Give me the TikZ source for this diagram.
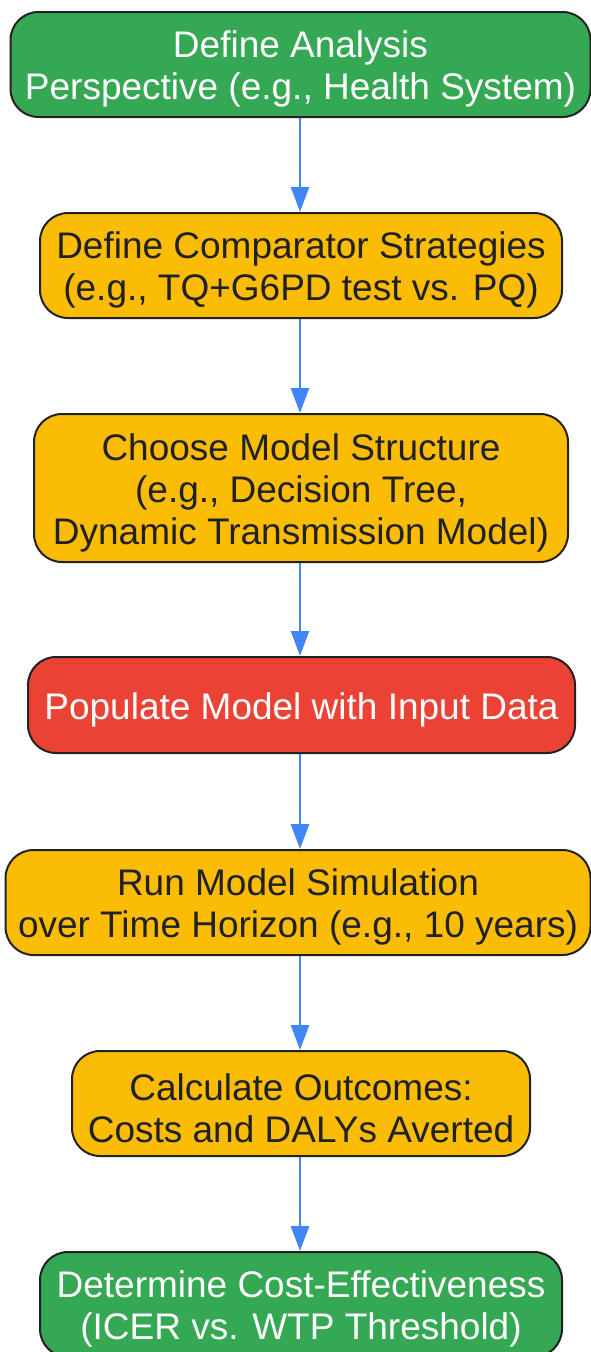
\documentclass[tikz,border=0pt]{standalone}
\usepackage{fontspec}
\setmainfont{Liberation Sans}
\usetikzlibrary{arrows.meta}

\definecolor{stepgreen}{HTML}{34A853}
\definecolor{steporange}{HTML}{FBBC05}
\definecolor{stepred}{HTML}{EA4335}
\definecolor{arrowblue}{HTML}{4285F4}
\definecolor{edgegray}{HTML}{222222}
\definecolor{textdark}{HTML}{202124}

\newcommand{\headroom}{\rule{0pt}{36pt}}

\begin{document}
\begin{tikzpicture}[x = 1pt, y = -1pt,
	stepbox/.style = {draw = edgegray, line width = 2pt, rounded corners = 28pt, align = center, inner sep = 0pt, font = \fontsize{37}{42}\selectfont},
	light/.style = {stepbox, text = white},
	dark/.style = {stepbox, text = textdark},
	flow/.style = {draw = arrowblue, line width = 2.5pt, -{Triangle[width = 18pt, length = 25pt]}}]
	\useasboundingbox (0, 0) rectangle (591, 1352);

	\node[light, fill = stepgreen, minimum width = 580pt, minimum height = 105pt] (persp) at (300.5, 64.5){\headroom Define Analysis\\Perspective (e.g., Health System)};
	\node[dark, fill = steporange, minimum width = 522pt, minimum height = 105pt] (comp) at (301, 265.5){\headroom Define Comparator Strategies\\(e.g., TQ+G6PD test vs. PQ)};
	\node[dark, fill = steporange, minimum width = 534pt, minimum height = 148pt] (struct) at (301, 488){\headroom Choose Model Structure\\(e.g., Decision Tree,\\Dynamic Transmission Model)};
	\node[light, fill = stepred, minimum width = 547pt, minimum height = 96pt] (input) at (301.5, 705){\headroom Populate Model with Input Data};
	\node[dark, fill = steporange, minimum width = 585pt, minimum height = 105pt] (sim) at (298, 902.5){\headroom Run Model Simulation\\over Time Horizon (e.g., 10 years)};
	\node[dark, fill = steporange, minimum width = 458pt, minimum height = 105pt] (outc) at (301, 1103.5){\headroom Calculate Outcomes:\\Costs and DALYs Averted};
	\node[light, fill = stepgreen, minimum width = 522pt, minimum height = 105pt] (icer) at (301, 1304.5){\headroom Determine Cost-Effectiveness\\(ICER vs. WTP Threshold)};

	\draw[flow] (persp.south -| 300, 0) -- (comp.north -| 300, 0);
	\draw[flow] (comp.south -| 300, 0) -- (struct.north -| 300, 0);
	\draw[flow] (struct.south -| 300, 0) -- (input.north -| 300, 0);
	\draw[flow] (input.south -| 300, 0) -- (sim.north -| 300, 0);
	\draw[flow] (sim.south -| 300, 0) -- (outc.north -| 300, 0);
	\draw[flow] (outc.south -| 300, 0) -- (icer.north -| 300, 0);
\end{tikzpicture}
\end{document}
